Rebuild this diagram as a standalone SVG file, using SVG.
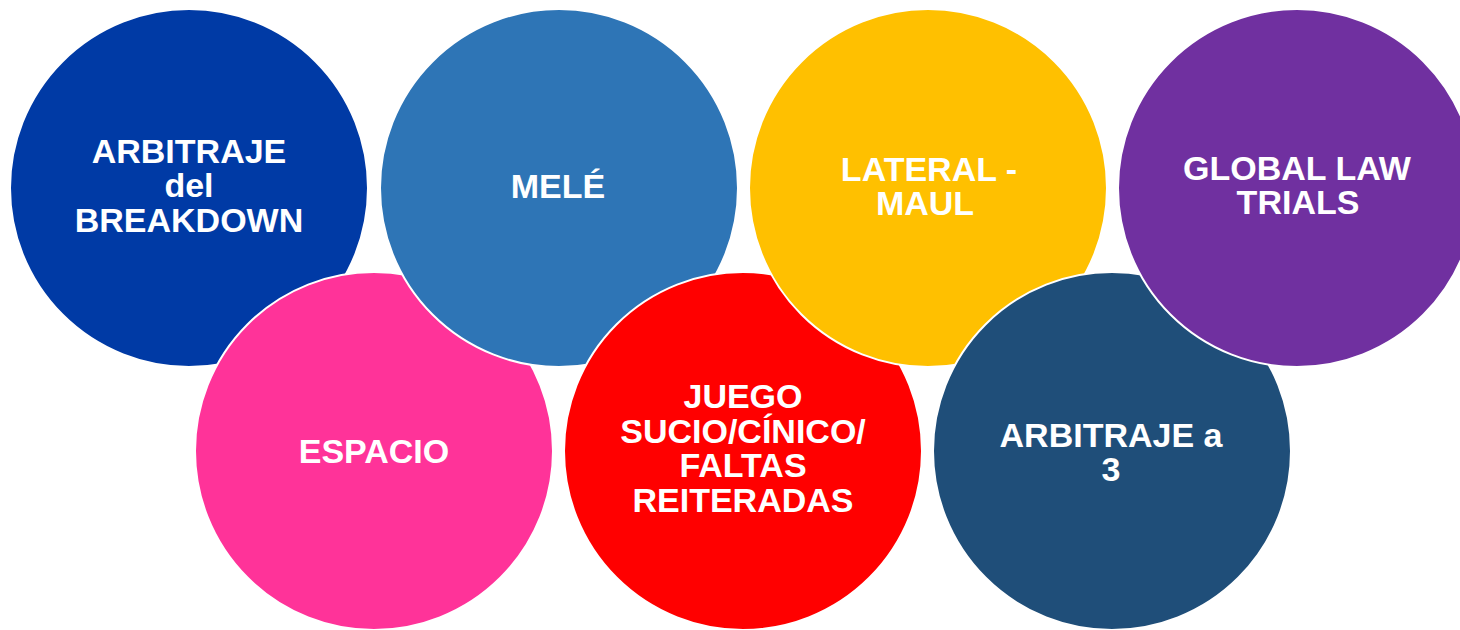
<svg xmlns="http://www.w3.org/2000/svg" width="1460" height="630" viewBox="0 0 1460 630">
<style>
.c{stroke:#ffffff;stroke-width:2}
.t{font-family:"Liberation Sans",Arial,sans-serif;font-weight:bold;font-size:34px;fill:#ffffff;text-anchor:middle}
</style>
<rect width="1460" height="630" fill="#ffffff"/>
<g id="connectors"/>
<g id="n1">
<circle class="c" cx="189" cy="188" r="179" fill="#003AA5"/>
<text class="t"><tspan x="189" y="163">ARBITRAJE</tspan><tspan x="189" y="197">del</tspan><tspan x="189" y="232">BREAKDOWN</tspan></text>
</g>
<g id="n2">
<circle class="c" cx="374" cy="451" r="179" fill="#FF3399"/>
<text class="t" x="374" y="463">ESPACIO</text>
</g>
<g id="n3">
<circle class="c" cx="559" cy="188" r="179" fill="#2E75B6"/>
<text class="t" x="558" y="198">MELÉ</text>
</g>
<g id="n4">
<circle class="c" cx="743" cy="451" r="179" fill="#FF0000"/>
<text class="t"><tspan x="743" y="408">JUEGO</tspan><tspan x="743" y="443">SUCIO/CÍNICO/</tspan><tspan x="743" y="477">FALTAS</tspan><tspan x="743" y="512">REITERADAS</tspan></text>
</g>
<g id="n5">
<circle class="c" cx="928" cy="188" r="179" fill="#FFC000"/>
<text class="t"><tspan x="929" y="181">LATERAL -</tspan><tspan x="925" y="215">MAUL</tspan></text>
</g>
<g id="n6">
<circle class="c" cx="1112" cy="451" r="179" fill="#1F4E79"/>
<text class="t"><tspan x="1111" y="447">ARBITRAJE a</tspan><tspan x="1111" y="481">3</tspan></text>
</g>
<g id="n7">
<circle class="c" cx="1297" cy="188" r="179" fill="#7030A0"/>
<text class="t"><tspan x="1297" y="180">GLOBAL LAW</tspan><tspan x="1298" y="214">TRIALS</tspan></text>
</g>
</svg>
